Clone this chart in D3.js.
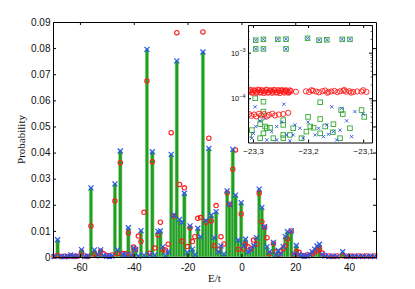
<!DOCTYPE html>
<html><head><meta charset="utf-8">
<script src="https://cdn.jsdelivr.net/npm/d3@7"></script>
<style>html,body{margin:0;padding:0;background:#fff;}svg{display:block;}text{font-family:"Liberation Sans",Arial,sans-serif;}text.serif{font-family:"Liberation Serif","Times New Roman",serif;}</style>
</head><body><svg id="c" width="415" height="289"></svg>
<script>
// ---- main chart data ----
const energies = [-69.6,-68.3,-67.0,-65.8,-64.6,-63.4,-62.2,-61.0,-59.4,-58.2,-57.1,-55.9,-54.6,-53.4,-52.3,-51.2,-50.1,-49.1,-48.1,-47.0,-46.1,-45.0,-44.0,-43.1,-42.0,-41.0,-40.1,-39.3,-38.3,-37.3,-36.2,-35.1,-34.1,-33.1,-32.2,-31.0,-30.1,-29.2,-28.2,-27.2,-26.1,-25.1,-24.0,-23.0,-22.1,-21.2,-20.1,-19.1,-18.2,-17.3,-16.2,-15.2,-14.3,-13.2,-12.1,-11.2,-10.2,-9.4,-8.5,-7.6,-6.5,-5.3,-4.4,-3.2,-2.2,-1.2,-0.1,0.8,1.5,2.5,3.5,4.5,5.6,6.6,7.6,8.6,9.5,10.4,11.9,12.8,13.7,14.6,15.5,16.3,17.1,18.5,19.5,20.4,21.4,22.4,23.4,24.4,25.4,26.3,27.2,28.1,29.0,30.0,31.0,32.5,34.0,35.5,37.6,39.0,40.5,42.0,43.5,45.0,46.5,48.0,49.5];
const probExact = [0.0002,0.0066,0.0002,0.0001,0.0003,0.0008,0.0002,0.0005,0.0028,0.0002,0.0004,0.0265,0.0027,0.0009,0.0027,0.0006,0.0003,0.0002,0.0004,0.0280,0.0027,0.0406,0.0010,0.0008,0.0112,0.0008,0.0035,0.0028,0.0004,0.0101,0.0007,0.0795,0.0009,0.0403,0.0008,0.0098,0.0100,0.0039,0.0005,0.0020,0.0393,0.0160,0.0751,0.0144,0.0133,0.0244,0.0018,0.0119,0.0030,0.0010,0.0110,0.0078,0.0785,0.0140,0.0416,0.0160,0.0074,0.0174,0.0020,0.0042,0.0012,0.0253,0.0202,0.0412,0.0237,0.0065,0.0208,0.0043,0.0068,0.0020,0.0028,0.0045,0.0074,0.0260,0.0190,0.0116,0.0040,0.0020,0.0056,0.0008,0.0025,0.0012,0.0040,0.0078,0.0097,0.0100,0.0012,0.0044,0.0010,0.0005,0.0003,0.0004,0.0010,0.0020,0.0030,0.0042,0.0049,0.0010,0.0004,0.0002,0.0003,0.0002,0.0020,0.0003,0.0002,0.0003,0.0002,0.0003,0.0002,0.0003,0.0002];
const probApprox = [0.0003,0.0006,0.0002,0.0003,0.0002,0.0004,0.0002,0.0003,0.0019,0.0004,0.0002,0.0119,0.0011,0.0005,0.0022,0.0012,0.0006,0.0003,0.0008,0.0214,0.0013,0.0361,0.0013,0.0012,0.0092,0.0011,0.0038,0.0031,0.0080,0.0059,0.0171,0.0674,0.0014,0.0365,0.0034,0.0084,0.0133,0.0029,0.0027,0.0049,0.0476,0.0157,0.0859,0.0278,0.0061,0.0265,0.0040,0.0112,0.0059,0.0078,0.0148,0.0151,0.0862,0.0133,0.0455,0.0138,0.0043,0.0197,0.0030,0.0078,0.0050,0.0246,0.0202,0.0336,0.0410,0.0030,0.0165,0.0031,0.0049,0.0039,0.0031,0.0065,0.0049,0.0244,0.0135,0.0114,0.0074,0.0012,0.0052,0.0020,0.0010,0.0022,0.0031,0.0042,0.0069,0.0100,0.0008,0.0022,0.0018,0.0006,0.0004,0.0008,0.0006,0.0012,0.0018,0.0025,0.0032,0.0015,0.0006,0.0004,0.0003,0.0004,0.0005,0.0003,0.0004,0.0003,0.0004,0.0003,0.0004,0.0003,0.0004];
const xTicks = [-60,-40,-20,0,20,40];
const xTickLabels = ["-60","-40","-20","0","20","40"];
const yTicks = [0,0.01,0.02,0.03,0.04,0.05,0.06,0.07,0.08,0.09];
const yTickLabels = ["0","0.01","0.02","0.03","0.04","0.05","0.06","0.07","0.08","0.09"];

// ---- inset data ----
const insetRedE = [-23.307,-23.303,-23.300,-23.296,-23.293,-23.289,-23.285,-23.282,-23.278,-23.275,-23.271,-23.267,-23.264,-23.260,-23.256,-23.253,-23.249,-23.245,-23.242,-23.238,-23.234,-23.231,-23.222,-23.204,-23.198,-23.191,-23.185,-23.180,-23.174,-23.169,-23.163,-23.158,-23.152,-23.147,-23.142,-23.136,-23.131,-23.125,-23.118,-23.111,-23.103,-23.094,
  -23.305,-23.302,-23.298,-23.294,-23.291,-23.287,-23.284,-23.280,-23.276,-23.273,-23.269,-23.265,-23.262,-23.258,-23.254,-23.251,-23.247,-23.243,-23.240,-23.236,-23.233,-23.194,-23.165,-23.134,-23.122,-23.100,
  -23.307,-23.303,-23.298,-23.294,-23.289,-23.285,-23.280,-23.275,-23.271,-23.265,-23.260,-23.253,-23.245,-23.236];
const insetRedP = [1.40e-4,1.48e-4,1.35e-4,1.45e-4,1.38e-4,1.50e-4,1.36e-4,1.44e-4,1.41e-4,1.52e-4,1.37e-4,1.46e-4,1.39e-4,1.49e-4,1.34e-4,1.43e-4,1.47e-4,1.38e-4,1.45e-4,1.40e-4,1.36e-4,1.44e-4,1.39e-4,1.42e-4,1.37e-4,1.46e-4,1.40e-4,1.35e-4,1.43e-4,1.48e-4,1.38e-4,1.41e-4,1.45e-4,1.36e-4,1.42e-4,1.47e-4,1.39e-4,1.43e-4,1.37e-4,1.41e-4,1.40e-4,1.38e-4,
  1.53e-4,1.32e-4,1.50e-4,1.31e-4,1.55e-4,1.33e-4,1.51e-4,1.30e-4,1.54e-4,1.32e-4,1.50e-4,1.31e-4,1.53e-4,1.34e-4,1.52e-4,1.30e-4,1.51e-4,1.33e-4,1.50e-4,1.32e-4,1.49e-4,1.50e-4,1.32e-4,1.52e-4,1.33e-4,1.50e-4,
  4.5e-5,4.1e-5,4.4e-5,4.0e-5,4.6e-5,4.2e-5,4.5e-5,4.0e-5,4.3e-5,4.6e-5,4.2e-5,4.4e-5,4.5e-5,4.8e-5];
const insetGreenE = [-23.295,-23.281,-23.255,-23.240,-23.201,-23.180,-23.166,-23.138,-23.124,-23.295,-23.281,-23.240,
  -23.296,-23.281,-23.178,-23.103,-23.140,-23.137,-23.200,-23.281,-23.286,-23.245,-23.287,-23.278,-23.275,-23.269,-23.245,-23.178,-23.169,-23.190,-23.154,-23.155,-23.178,-23.227,-23.233,-23.245,-23.245,-23.281,-23.287,-23.203,-23.196,-23.098,-23.124,-23.142,-23.212,-23.263,-23.302,-23.307];
const insetGreenP = [1.88e-3,1.96e-3,1.96e-3,1.98e-3,2.07e-3,1.88e-3,1.92e-3,1.96e-3,1.96e-3,1.21e-3,1.21e-3,1.21e-3,
  1.0e-4,8.4e-5,8.2e-5,5.5e-5,5.5e-5,4.5e-5,3.9e-5,5.1e-5,3.6e-5,3.3e-5,2.7e-5,2.4e-5,2.2e-5,2.26e-5,2.6e-5,3.5e-5,2.4e-5,2.26e-5,2.7e-5,1.8e-5,1.7e-5,2.2e-5,1.57e-5,1.57e-5,1.33e-5,1.7e-5,1.33e-5,1.85e-5,2.4e-5,3.9e-5,2.2e-5,1.33e-5,1.33e-5,1.33e-5,2.0e-5,1.57e-5];
const insetBlueE = [-23.295,-23.281,-23.255,-23.240,-23.201,-23.180,-23.166,-23.138,-23.124,-23.295,-23.281,-23.240,
  -23.296,-23.244,-23.157,-23.139,-23.100,-23.115,-23.278,-23.287,-23.248,-23.224,-23.200,-23.181,-23.154,-23.166,-23.142,-23.130,-23.121,-23.148,-23.299,-23.302,-23.266,-23.257,-23.239,-23.227,-23.215,-23.209,-23.187,-23.172,-23.163,-23.275,-23.257,-23.233,-23.295];
const insetBlueP = [1.88e-3,1.96e-3,1.96e-3,1.98e-3,2.07e-3,1.88e-3,1.92e-3,1.96e-3,1.96e-3,1.21e-3,1.21e-3,1.21e-3,
  6.5e-5,7.4e-5,6.5e-5,6.0e-5,4.5e-5,5.1e-5,3.6e-5,3.2e-5,3.0e-5,2.6e-5,3.0e-5,2.2e-5,1.85e-5,2.6e-5,2.0e-5,3.2e-5,1.44e-5,1.22e-5,1.7e-5,1.33e-5,1.85e-5,2.4e-5,1.57e-5,1.57e-5,2.2e-5,1.33e-5,1.57e-5,1.44e-5,1.62e-5,1.22e-5,1.22e-5,1.16e-5,2.4e-5];
const insetXTicks = [-23.3,-23.2,-23.1];
const insetXTickLabels = ["\u221223,3","\u221223,2","\u221223,1"];
const insetYTicks = [1e-3,1e-4];
const insetYTickExps = ["\u22123","\u22124"];
const insetYMinor = [2e-5,3e-5,4e-5,5e-5,6e-5,7e-5,8e-5,9e-5,2e-4,3e-4,4e-4,5e-4,6e-4,7e-4,8e-4,9e-4,2e-3,3e-3,4e-3];

const svg = d3.select("#c");
const M = {l:53, r:376, t:22, b:257};
const x = d3.scaleLinear().domain([-70,50]).range([M.l,M.r]);
const y = d3.scaleLinear().domain([0,0.09]).range([M.b,M.t]);
const GREEN="#1f9e1f", GREEN_EDGE="#a3d9a3", BLUE="#2b55e6", RED="#ff1a1a";

const pts = energies.map((e,i)=>({e, g:probExact[i], r:probApprox[i]}));
const bw = x(1.3)-x(0);
const plot = svg.append("g");
plot.selectAll("rect.bar").data(pts).join("rect").attr("class","bar")
  .attr("x",d=>x(d.e)-bw/2).attr("width",bw)
  .attr("y",d=>y(d.g)).attr("height",d=>y(0)-y(d.g))
  .attr("fill",GREEN).attr("stroke",GREEN_EDGE).attr("stroke-width",0.6);

function cross(g,data,xs,ys,s,color,w){
  g.selectAll(null).data(data).join("path")
   .attr("d",d=>{const cx=xs(d),cy=ys(d);return `M${cx-s},${cy-s}L${cx+s},${cy+s}M${cx-s},${cy+s}L${cx+s},${cy-s}`;})
   .attr("stroke",color).attr("stroke-width",w).attr("fill","none");
}
plot.selectAll("circle.red").data(pts).join("circle").attr("class","red")
  .attr("cx",d=>x(d.e)).attr("cy",d=>y(d.r)).attr("r",2.2)
  .attr("fill","none").attr("stroke",RED).attr("stroke-width",1.1);
cross(plot,pts,d=>x(d.e),d=>y(d.g),2.5,BLUE,1.2);

// main axes
const fontMain = "10px";
const axB = d3.axisBottom(x).tickValues(xTicks).tickFormat((d,i)=>xTickLabels[i]).tickSizeInner(-3).tickSizeOuter(0).tickPadding(7);
const axT = d3.axisTop(x).tickValues(xTicks).tickFormat("").tickSizeInner(-3).tickSizeOuter(0);
const axL = d3.axisLeft(y).tickValues(yTicks).tickFormat((d,i)=>yTickLabels[i]).tickSizeInner(-3).tickSizeOuter(0).tickPadding(2.5);
const axR = d3.axisRight(y).tickValues(yTicks).tickFormat("").tickSizeInner(-3).tickSizeOuter(0);
function styleAx(g,fs){g.selectAll("text").attr("font-size",fs).attr("fill","#111");g.selectAll("path,line").attr("stroke","#000");}
svg.append("g").attr("transform",`translate(0,${M.b})`).call(axB).call(g=>styleAx(g,fontMain));
svg.append("g").attr("transform",`translate(0,${M.t})`).call(axT).call(g=>styleAx(g,fontMain));
svg.append("g").attr("transform",`translate(${M.l},0)`).call(axL).call(g=>styleAx(g,fontMain));
svg.append("g").attr("transform",`translate(${M.r},0)`).call(axR).call(g=>styleAx(g,fontMain));

svg.append("text").attr("class","serif").attr("x",214.5).attr("y",281.5).attr("text-anchor","middle").attr("font-size","11px").attr("fill","#111").text("E/t");
svg.append("text").attr("class","serif").attr("transform","translate(24.5,139.5) rotate(-90)").attr("text-anchor","middle").attr("font-size","11px").attr("fill","#111").text("Probability");

// ---- inset ----
const I = {l:248, r:372, t:25, b:142.5};
const xi = d3.scaleLinear().domain([-23.309,-23.084]).range([I.l,I.r]);
const yi = d3.scaleLog().domain([1.07e-5,4.05e-3]).range([I.b,I.t]);
svg.append("rect").attr("x",I.l).attr("y",I.t).attr("width",I.r-I.l).attr("height",I.b-I.t).attr("fill","#fff");
svg.append("clipPath").attr("id","ic").append("rect").attr("x",I.l).attr("y",I.t).attr("width",I.r-I.l).attr("height",I.b-I.t);
const ig = svg.append("g").attr("clip-path","url(#ic)");
const redI = insetRedE.map((e,i)=>({e,p:insetRedP[i]}));
const greenI = insetGreenE.map((e,i)=>({e,p:insetGreenP[i]}));
const blueI = insetBlueE.map((e,i)=>({e,p:insetBlueP[i]}));
ig.selectAll("rect.sq").data(greenI).join("rect").attr("class","sq")
  .attr("x",d=>xi(d.e)-2.3).attr("y",d=>yi(d.p)-2.3).attr("width",4.6).attr("height",4.6)
  .attr("fill","none").attr("stroke","#34a834").attr("stroke-width",0.9);
cross(ig,blueI,d=>xi(d.e),d=>yi(d.p),1.6,BLUE,0.9);
ig.selectAll("circle.ri").data(redI).join("circle").attr("class","ri")
  .attr("cx",d=>xi(d.e)).attr("cy",d=>yi(d.p)).attr("r",2.6)
  .attr("fill","none").attr("stroke",RED).attr("stroke-width",0.9);

const iaB = d3.axisBottom(xi).tickValues(insetXTicks).tickFormat((d,i)=>insetXTickLabels[i]).tickSizeInner(-3).tickSizeOuter(0).tickPadding(6);
const iaT = d3.axisTop(xi).tickValues(insetXTicks).tickFormat("").tickSizeInner(-3).tickSizeOuter(0);
const iaL = d3.axisLeft(yi).tickValues(insetYTicks).tickFormat("").tickSizeInner(-3).tickSizeOuter(0);
const iaR = d3.axisRight(yi).tickValues(insetYTicks).tickFormat("").tickSizeInner(-3).tickSizeOuter(0);
const iaLm = d3.axisLeft(yi).tickValues(insetYMinor).tickFormat("").tickSizeInner(-1.5).tickSizeOuter(0);
const iaRm = d3.axisRight(yi).tickValues(insetYMinor).tickFormat("").tickSizeInner(-1.5).tickSizeOuter(0);
svg.append("g").attr("transform",`translate(0,${I.b})`).call(iaB).call(g=>styleAx(g,"8px"));
svg.append("g").attr("transform",`translate(0,${I.t})`).call(iaT).call(g=>styleAx(g,"8px"));
svg.append("g").attr("transform",`translate(${I.l},0)`).call(iaL).call(g=>styleAx(g,"8px"));
svg.append("g").attr("transform",`translate(${I.r},0)`).call(iaR).call(g=>styleAx(g,"8px"));
svg.append("g").attr("transform",`translate(${I.l},0)`).call(iaLm).call(g=>{g.select(".domain").remove();g.selectAll("line").attr("stroke","#000").attr("stroke-width",0.6);});
svg.append("g").attr("transform",`translate(${I.r},0)`).call(iaRm).call(g=>{g.select(".domain").remove();g.selectAll("line").attr("stroke","#000").attr("stroke-width",0.6);});
insetYTicks.forEach((v,i)=>{
  const t = svg.append("text").attr("x",245.5).attr("y",yi(v)+3).attr("text-anchor","end").attr("font-size","7.5px").attr("fill","#111");
  t.append("tspan").text("10");
  t.append("tspan").attr("dy",-3.5).attr("font-size","5.5px").text(insetYTickExps[i]);
});
</script>
</body></html>
